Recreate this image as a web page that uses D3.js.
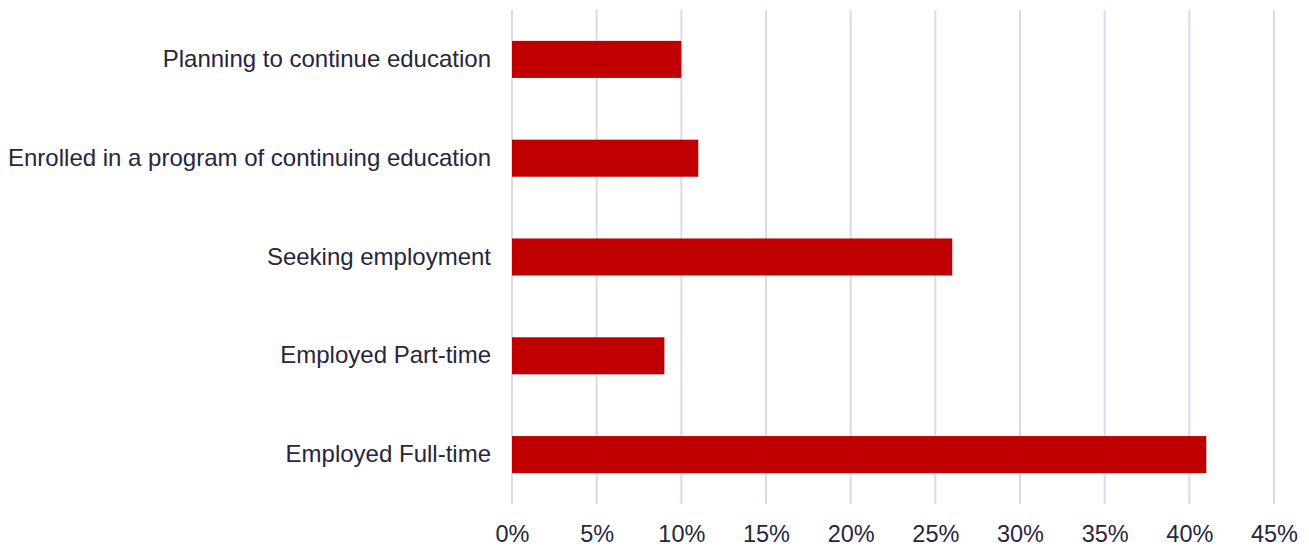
<!DOCTYPE html>
<html>
<head>
<meta charset="utf-8">
<script src="https://cdn.jsdelivr.net/npm/d3@7"></script>
<style>
  body { margin: 0; background: #fff; }
  svg { display: block; font-family: "Liberation Sans", Arial, sans-serif; }
</style>
</head>
<body>
<svg width="1309" height="546"></svg>
<script>
const categories = [
  "Planning to continue education",
  "Enrolled in a program of continuing education",
  "Seeking employment",
  "Employed Part-time",
  "Employed Full-time"
]
const values = [10, 11, 26, 9, 41]
const ticks = [0, 5, 10, 15, 20, 25, 30, 35, 40, 45]

const svg = d3.select('svg')
const margin = {top: 10, right: 35, bottom: 42, left: 512}
const W = 1309, H = 546
const plotW = W - margin.left - margin.right
const plotH = H - margin.top - margin.bottom

const x = d3.scaleLinear().domain([0, 45]).range([0, plotW])
const y = d3.scaleBand().domain(categories).range([0, plotH]).paddingInner(0.625).paddingOuter(0.3125)

const g = svg.append('g').attr('transform', `translate(${margin.left},${margin.top})`)

// gridlines
g.selectAll('line.grid')
  .data(ticks)
  .join('line')
  .classed('grid', true)
  .attr('x1', d => x(d)).attr('x2', d => x(d))
  .attr('y1', 0).attr('y2', plotH)
  .style('stroke', '#dcd9ea')
  .style('stroke-width', 2)

// bars
g.selectAll('rect')
  .data(values)
  .join('rect')
  .attr('x', x(0))
  .attr('y', (d, i) => y(categories[i]))
  .attr('width', d => x(d) - x(0))
  .attr('height', y.bandwidth())
  .style('fill', '#c00000')

// x axis labels
const xAxis = g.append('g')
  .attr('transform', `translate(0,${plotH})`)
  .call(d3.axisBottom(x).tickValues(ticks).tickFormat(d => d + '%').tickSize(0).tickPadding(21))
xAxis.select('.domain').remove()
xAxis.selectAll('text')
  .style('font-size', '23.5px')
  .style('fill', '#27253f')
  .style('font-family', '"Liberation Sans", Arial, sans-serif')

// y axis labels
const yAxis = g.append('g')
  .call(d3.axisLeft(y).tickSize(0).tickPadding(21))
yAxis.select('.domain').remove()
yAxis.selectAll('text')
  .style('font-size', '24px')
  .style('fill', '#27253f')
  .style('font-family', '"Liberation Sans", Arial, sans-serif')
</script>
</body>
</html>
